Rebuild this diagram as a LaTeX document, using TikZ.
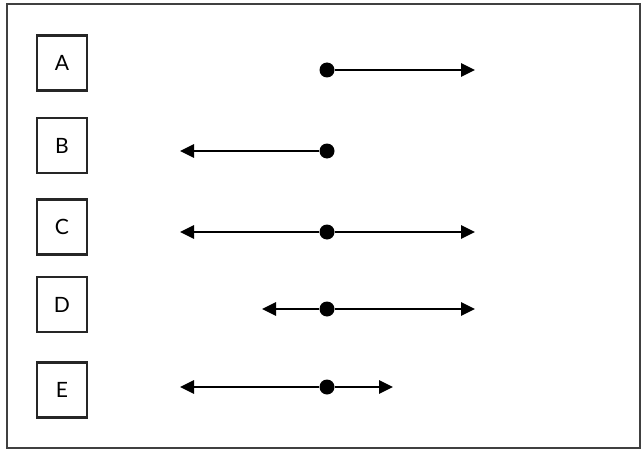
\documentclass[tikz,border=0pt]{standalone}
\usepackage{fontspec}
\setmainfont{Lato}
\usetikzlibrary{arrows.meta,positioning}

\begin{document}
\begin{tikzpicture}[
		x=0.03cm, y=-0.03cm,
		lbl/.style={rectangle, draw=black!85, line width=1.8pt, fill=white,
				minimum width=1.5cm, minimum height=1.65cm, inner sep=0pt,
				font=\fontsize{18}{20}\selectfont},
		dot/.style={circle, fill=black, inner sep=0pt, minimum size=0.45cm},
		ray/.style={-{Triangle[length=0.42cm, width=0.4cm]}, line width=1.9pt},
		]
		\useasboundingbox (0,0) rectangle (641,450);
		\draw[black!75, line width=1.4pt] (7,4) rectangle (640,448);

		% letter boxes
		\node[lbl] (boxA) at (62,63)    {A};
		\node[lbl] (boxB) at (62,145.5) {B};
		\node[lbl] (boxC) at (62,227)   {C};
		\node[lbl] (boxD) at (62,304.5) {D};
		\node[lbl] (boxE) at (62,390)   {E};

		% points
		\node[dot] (dotA) at (327,70)  {};
		\node[dot] (dotB) at (327,151) {};
		\node[dot] (dotC) at (327,232) {};
		\node[dot] (dotD) at (327,309) {};
		\node[dot] (dotE) at (327,387) {};

		% arrow ends
		\coordinate (endAR) at (475,70);
		\coordinate (endBL) at (180,151);
		\coordinate (endCL) at (180,232);
		\coordinate (endCR) at (475,232);
		\coordinate (endDL) at (262,309);
		\coordinate (endDR) at (475,309);
		\coordinate (endEL) at (180,387);
		\coordinate (endER) at (393,387);

		\draw[ray] (dotA) -- (endAR);
		\draw[ray] (dotB) -- (endBL);
		\draw[ray] (dotC) -- (endCL);
		\draw[ray] (dotC) -- (endCR);
		\draw[ray] (dotD) -- (endDL);
		\draw[ray] (dotD) -- (endDR);
		\draw[ray] (dotE) -- (endEL);
		\draw[ray] (dotE) -- (endER);

	\end{tikzpicture}
\end{document}
